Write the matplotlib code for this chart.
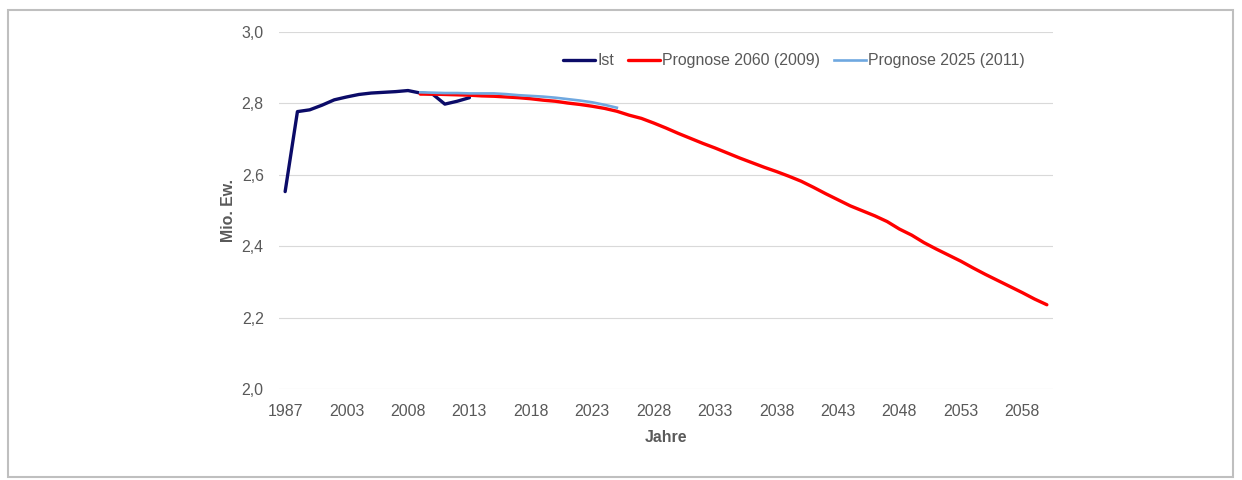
import matplotlib.pyplot as plt
from matplotlib.patches import Rectangle

# === DATA ===
jahre = ["1987"] + [str(j) for j in range(1999, 2061)]

ist_jahre = ["1987"] + [str(j) for j in range(1999, 2014)]
ist_werte = [2.553, 2.777, 2.782, 2.795, 2.810, 2.818, 2.825, 2.829, 2.831,
             2.833, 2.836, 2.829, 2.826, 2.798, 2.806, 2.816]

prog2060_jahre = [str(j) for j in range(2009, 2061)]
prog2060_werte = [2.826, 2.826, 2.825, 2.824, 2.823, 2.821, 2.820, 2.818, 2.816,
                  2.813, 2.809, 2.806, 2.801, 2.797, 2.792, 2.786, 2.778, 2.767,
                  2.758, 2.745, 2.731, 2.716, 2.702, 2.688, 2.675, 2.661, 2.647,
                  2.634, 2.621, 2.609, 2.596, 2.582, 2.565, 2.547, 2.530, 2.513,
                  2.499, 2.485, 2.469, 2.448, 2.431, 2.410, 2.392, 2.375, 2.358,
                  2.339, 2.321, 2.304, 2.287, 2.270, 2.252, 2.236]

prog2025_jahre = [str(j) for j in range(2009, 2026)]
prog2025_werte = [2.831, 2.830, 2.829, 2.829, 2.828, 2.828, 2.828, 2.826, 2.823,
                  2.821, 2.819, 2.816, 2.812, 2.808, 2.803, 2.796, 2.788]

y_ticks = [2.0, 2.2, 2.4, 2.6, 2.8, 3.0]

GRAU = "#595959"
FS = 11.4
plt.rcParams["font.family"] = ["Liberation Sans", "DejaVu Sans"]

idx = {j: i for i, j in enumerate(jahre)}

fig = plt.figure(figsize=(12.42, 4.8), dpi=100)
ax = fig.add_axes([279 / 1242, 1 - 389 / 480, 774 / 1242, 357 / 480])

ax.plot([idx[j] for j in ist_jahre], ist_werte, color="#0b0b68", lw=2.4, label="Ist",
        solid_joinstyle="round", solid_capstyle="round")
ax.plot([idx[j] for j in prog2060_jahre], prog2060_werte, color="#ff0000", lw=2.4,
        label="Prognose 2060 (2009)", solid_joinstyle="round", solid_capstyle="round")
ax.plot([idx[j] for j in prog2025_jahre], prog2025_werte, color="#6fa8e0", lw=1.9,
        label="Prognose 2025 (2011)", solid_joinstyle="round")

ax.set_xlim(-0.5, len(jahre) - 0.5)
ax.set_ylim(2.0, 3.0)
ax.set_xticks(range(0, len(jahre), 5))
ax.set_xticklabels(jahre[::5])
ax.set_yticks(y_ticks)
ax.set_yticklabels([f"{v:.1f}".replace(".", ",") for v in y_ticks])
ax.tick_params(length=0, labelsize=FS, labelcolor=GRAU, pad=11)

ax.grid(axis="y", color="#d9d9d9", lw=0.8)
ax.set_axisbelow(True)
for s in ax.spines.values():
    s.set_visible(False)

ax.set_ylabel("Mio. Ew.", fontsize=FS, fontweight="bold", color=GRAU)
ax.yaxis.set_label_coords(-0.055, 0.5)
ax.set_xlabel("Jahre", fontsize=FS, fontweight="bold", color=GRAU)
ax.xaxis.set_label_coords(0.5, -0.115)

ax.legend(loc="center left", bbox_to_anchor=(0.367, 0.919), ncol=3, frameon=False,
          fontsize=FS, labelcolor=GRAU, handlelength=2.0, handletextpad=0.15,
          columnspacing=0.9, borderpad=0, borderaxespad=0)

fig.add_artist(Rectangle((8 / 1242, 3 / 480), 1225 / 1242, 467 / 480,
                         transform=fig.transFigure, fill=False,
                         edgecolor="#bfbfbf", lw=1.5))

fig.savefig("out.png", dpi=100)
